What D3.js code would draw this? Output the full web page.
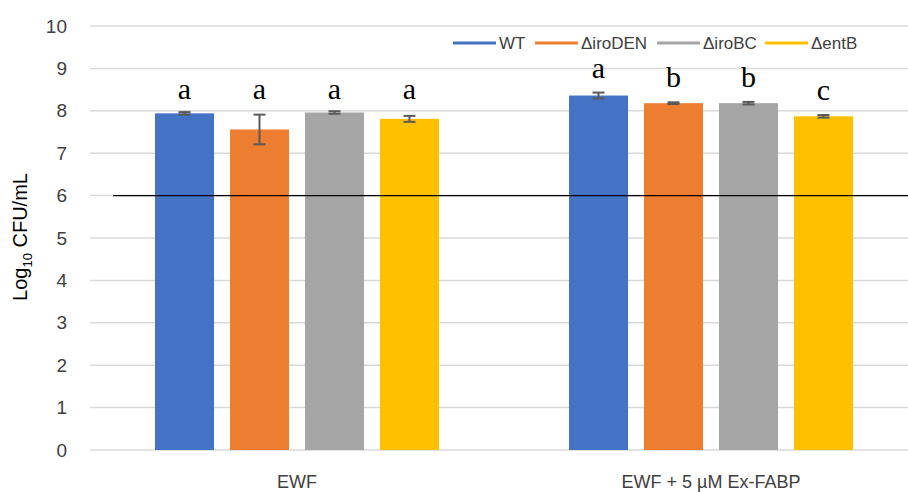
<!DOCTYPE html>
<html>
<head>
<meta charset="utf-8">
<script src="https://cdn.jsdelivr.net/npm/d3@7"></script>
<style>
  html, body { margin: 0; padding: 0; background: #fff; }
  svg { display: block; }
</style>
</head>
<body>
<svg id="chart" width="908" height="492"></svg>
<script>
// Growth conditions on the x axis
const categories = ["EWF", "EWF + 5 µM Ex-FABP"];
// Strains (legend order)
const strains = ["WT", "ΔiroDEN", "ΔiroBC", "ΔentB"];
const colors = ["#4472C4", "#ED7D31", "#A5A5A5", "#FFC000"];
// Mean log10 CFU/mL per strain, one array per condition
const meansEWF = [7.94, 7.56, 7.96, 7.81];
const meansFABP = [8.36, 8.18, 8.18, 7.87];
// Error bar half-widths
const errEWF = [0.03, 0.35, 0.03, 0.07];
const errFABP = [0.07, 0.02, 0.03, 0.03];
// Significance letters
const lettersEWF = ["a", "a", "a", "a"];
const lettersFABP = ["a", "b", "b", "c"];
// Reference line (inoculum level)
const referenceLevel = 6;
const yTicks = [0, 1, 2, 3, 4, 5, 6, 7, 8, 9, 10];

const means = [meansEWF, meansFABP];
const errs = [errEWF, errFABP];
const letters = [lettersEWF, lettersFABP];

const rows = [];
categories.forEach((c, ci) => {
  strains.forEach((s, si) => {
    rows.push({ cat: c, strain: s, value: means[ci][si], err: errs[ci][si], letter: letters[ci][si], color: colors[si] });
  });
});

const svg = d3.select("#chart");

const y = d3.scaleLinear().domain([0, 10]).range([450, 26]);
const x0 = d3.scaleBand().domain(categories).range([90, 918]).padding(0);
const groupWidth = 284;
const x1 = d3.scaleBand().domain(strains)
  .range([(x0.bandwidth() - groupWidth) / 2, (x0.bandwidth() + groupWidth) / 2])
  .paddingInner(0.213).paddingOuter(0);

// gridlines
svg.append("g")
  .selectAll("line")
  .data(yTicks)
  .join("line")
  .attr("x1", 90).attr("x2", 908)
  .attr("y1", d => y(d)).attr("y2", d => y(d))
  .attr("stroke", "#D9D9D9").attr("stroke-width", 1.5);

// y tick labels
svg.append("g")
  .selectAll("text")
  .data(yTicks)
  .join("text")
  .attr("x", 67).attr("y", d => y(d))
  .attr("dy", "0.35em")
  .attr("text-anchor", "end")
  .attr("font-family", "Liberation Sans, Arial, sans-serif")
  .attr("font-size", 19)
  .attr("fill", "#404040")
  .text(d => d);

// y axis title
const yTitle = svg.append("text")
  .attr("transform", "translate(27,237) rotate(-90)")
  .attr("text-anchor", "middle")
  .attr("font-family", "Liberation Sans, Arial, sans-serif")
  .attr("font-size", 20)
  .attr("fill", "#000");
yTitle.append("tspan").text("Log");
yTitle.append("tspan").attr("font-size", 13).attr("dy", 5).text("10");
yTitle.append("tspan").attr("dy", -5).text(" CFU/mL");

// bars
svg.append("g")
  .selectAll("rect")
  .data(rows)
  .join("rect")
  .attr("x", d => x0(d.cat) + x1(d.strain))
  .attr("width", x1.bandwidth())
  .attr("y", d => y(d.value))
  .attr("height", d => y(0) - y(d.value))
  .attr("fill", d => d.color);

// reference line
svg.append("line")
  .attr("x1", 113).attr("x2", 908)
  .attr("y1", y(referenceLevel)).attr("y2", y(referenceLevel))
  .attr("stroke", "#000").attr("stroke-width", 1.3);

// error bars
const eb = svg.append("g").attr("stroke", "#595959").attr("stroke-width", 2);
rows.forEach(d => {
  const cx = x0(d.cat) + x1(d.strain) + x1.bandwidth() / 2;
  const t = y(d.value + d.err), b = y(d.value - d.err);
  eb.append("line").attr("x1", cx).attr("x2", cx).attr("y1", t).attr("y2", b);
  eb.append("line").attr("x1", cx - 6).attr("x2", cx + 6).attr("y1", t).attr("y2", t);
  eb.append("line").attr("x1", cx - 6).attr("x2", cx + 6).attr("y1", b).attr("y2", b);
});

// significance letters: the first condition shares one row above its tallest error bar
const letterBase = d => {
  const ci = categories.indexOf(d.cat);
  if (ci === 0) {
    const top = d3.max(means[0].map((m, i) => m + errs[0][i]));
    return y(top) - 12;
  }
  return y(d.value + d.err) - 15;
};
svg.append("g")
  .selectAll("text")
  .data(rows)
  .join("text")
  .attr("x", d => x0(d.cat) + x1(d.strain) + x1.bandwidth() / 2)
  .attr("y", letterBase)
  .attr("text-anchor", "middle")
  .attr("font-family", "Liberation Serif, Times New Roman, serif")
  .attr("font-size", 30)
  .attr("fill", "#000")
  .text(d => d.letter);

// category labels
svg.append("g")
  .selectAll("text")
  .data(categories)
  .join("text")
  .attr("x", d => x0(d) + x0.bandwidth() / 2)
  .attr("y", 488)
  .attr("text-anchor", "middle")
  .attr("font-family", "Liberation Sans, Arial, sans-serif")
  .attr("font-size", 18)
  .attr("fill", "#404040")
  .text(d => d);

// legend
const legendX = [453, 535, 657, 765];
const legend = svg.append("g");
strains.forEach((s, i) => {
  legend.append("line")
    .attr("x1", legendX[i]).attr("x2", legendX[i] + 43)
    .attr("y1", 43).attr("y2", 43)
    .attr("stroke", colors[i]).attr("stroke-width", 3);
  legend.append("text")
    .attr("x", legendX[i] + 46).attr("y", 43).attr("dy", "0.35em")
    .attr("font-family", "Liberation Sans, Arial, sans-serif")
    .attr("font-size", 17)
    .attr("fill", "#404040")
    .text(s);
});
</script>
</body>
</html>
